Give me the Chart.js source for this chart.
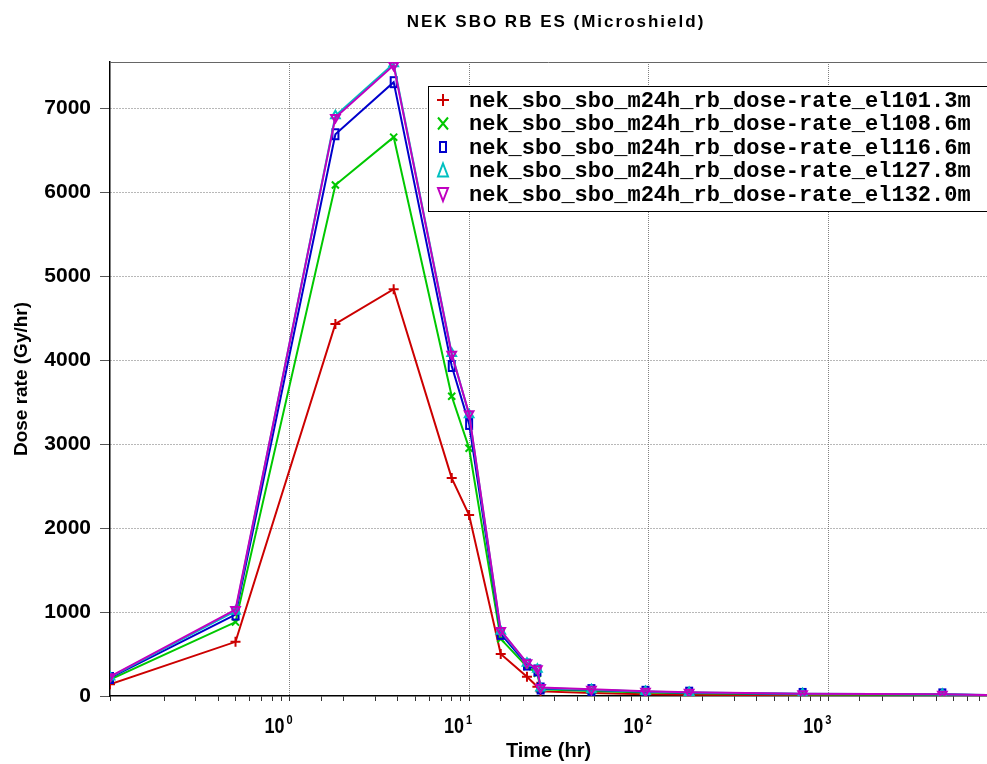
<!DOCTYPE html>
<html>
<head>
<meta charset="utf-8">
<script src="https://cdn.jsdelivr.net/npm/chart.js@4.4.1/dist/chart.umd.min.js"></script>
<style>
  html, body { margin: 0; padding: 0; background: #fff; overflow: hidden; }
  #wrap { width: 987px; height: 764px; position: relative; }
</style>
</head>
<body>
<div id="wrap"><canvas id="doseChart"></canvas></div>
<script>
// sample times (hr)
const times = [0.1, 0.5, 1.8, 3.8, 8, 10, 15, 21, 24, 25, 48, 96, 168, 720, 4320, 8760];

// dose rate (Gy/hr) per elevation
const el101 = [140, 645, 4430, 4845, 2595, 2155, 500, 230, 110, 55, 35, 22, 15, 8, 5, 3];
const el108 = [195, 880, 6085, 6655, 3570, 2950, 680, 350, 270, 80, 60, 42, 32, 18, 13, 5];
const el116 = [215, 970, 6690, 7310, 3930, 3240, 740, 375, 305, 90, 70, 50, 40, 25, 20, 8];
const el127 = [225, 1010, 6910, 7530, 4080, 3350, 770, 390, 320, 95, 75, 55, 42, 27, 22, 8];
const el132 = [230, 1030, 6890, 7510, 4070, 3360, 780, 395, 325, 100, 80, 58, 45, 28, 22, 8];

const seriesNames = [
  'nek_sbo_sbo_m24h_rb_dose-rate_el101.3m',
  'nek_sbo_sbo_m24h_rb_dose-rate_el108.6m',
  'nek_sbo_sbo_m24h_rb_dose-rate_el116.6m',
  'nek_sbo_sbo_m24h_rb_dose-rate_el127.8m',
  'nek_sbo_sbo_m24h_rb_dose-rate_el132.0m'
];
const seriesValues = [el101, el108, el116, el127, el132];
const colors = ['#cc0000', '#00c800', '#0000cc', '#00c0c0', '#c000c0'];

const chartTitle = 'NEK SBO RB ES (Microshield)';
const xDecadeExps = [0, 1, 2, 3];
const yTickValues = [0, 1000, 2000, 3000, 4000, 5000, 6000, 7000];

const SANS = "'Liberation Sans', Arial, sans-serif";
const MONO = "'Liberation Mono', 'Courier New', monospace";

// tall hollow box marker for the 116.6m series
function tallBox(color) {
  const c = document.createElement('canvas');
  c.width = 10; c.height = 14;
  const g = c.getContext('2d');
  g.strokeStyle = color;
  g.lineWidth = 2;
  g.strokeRect(2, 2, 6, 10);
  return c;
}

const markers = [
  { style: 'cross', rot: 0 },
  { style: 'crossRot', rot: 0 },
  { style: tallBox(colors[2]), rot: 0 },
  { style: 'triangle', rot: 0 },
  { style: 'triangle', rot: 180 }
];

function isDecade(v) {
  const l = Math.log10(v);
  return Math.abs(l - Math.round(l)) < 1e-6;
}

// legend marker, drawn by hand
function legendMarker(ctx, i, x, y) {
  const m = markers[i];
  ctx.strokeStyle = colors[i];
  ctx.lineWidth = 2;
  ctx.beginPath();
  if (i === 0) {
    ctx.moveTo(x - 6, y); ctx.lineTo(x + 6, y);
    ctx.moveTo(x, y - 6); ctx.lineTo(x, y + 6);
    ctx.stroke();
  } else if (i === 1) {
    ctx.moveTo(x - 5, y - 6); ctx.lineTo(x + 5, y + 6);
    ctx.moveTo(x + 5, y - 6); ctx.lineTo(x - 5, y + 6);
    ctx.stroke();
  } else if (i === 2) {
    ctx.drawImage(m.style, x - 5, y - 7);
  } else if (i === 3) {
    ctx.moveTo(x, y - 7); ctx.lineTo(x + 5, y + 6); ctx.lineTo(x - 5, y + 6); ctx.closePath();
    ctx.stroke();
  } else {
    ctx.moveTo(x, y + 7); ctx.lineTo(x + 5, y - 6); ctx.lineTo(x - 5, y - 6); ctx.closePath();
    ctx.stroke();
  }
}

const decorPlugin = {
  id: 'decor',
  beforeDatasetsDraw(chart) {
    const { ctx, chartArea: a } = chart;
    ctx.save();
    ctx.strokeStyle = '#666';
    ctx.lineWidth = 1;
    ctx.beginPath();
    ctx.moveTo(a.left, a.top + 0.5);
    ctx.lineTo(a.right, a.top + 0.5);
    ctx.stroke();
    ctx.restore();
  },
  afterDraw(chart) {
    const ctx = chart.ctx;

    // title
    ctx.save();
    ctx.font = 'bold 17px ' + SANS;
    ctx.letterSpacing = '2px';
    ctx.fillStyle = '#000';
    ctx.textAlign = 'center';
    ctx.textBaseline = 'middle';
    ctx.fillText(chartTitle, 556, 22);
    ctx.restore();

    // decade tick labels 10^n (slightly condensed like the original)
    const xs = chart.scales.x;
    ctx.save();
    ctx.fillStyle = '#000';
    ctx.textBaseline = 'alphabetic';
    xDecadeExps.forEach(e => {
      const px = xs.getPixelForValue(Math.pow(10, e));
      ctx.save();
      ctx.translate(px - 5, 733);
      ctx.scale(0.82, 1);
      ctx.font = 'bold 22px ' + SANS;
      ctx.textAlign = 'right';
      ctx.fillText('10', 0, 0);
      ctx.restore();
      ctx.save();
      ctx.translate(px - 3, 724);
      ctx.scale(0.85, 1);
      ctx.font = 'bold 13px ' + SANS;
      ctx.textAlign = 'left';
      ctx.fillText(String(e), 0, 0);
      ctx.restore();
    });
    ctx.restore();

    // legend box
    ctx.save();
    ctx.fillStyle = '#fff';
    ctx.fillRect(428.5, 86.5, 600, 125);
    ctx.strokeStyle = '#000';
    ctx.lineWidth = 1;
    ctx.strokeRect(428.5, 86.5, 600, 125);
    ctx.font = 'bold 22px ' + MONO;
    ctx.fillStyle = '#000';
    ctx.textAlign = 'left';
    ctx.textBaseline = 'middle';
    seriesNames.forEach((name, i) => {
      const y = 100 + i * 23.5;
      legendMarker(ctx, i, 443, y);
      ctx.fillText(name, 469, y + 1);
    });
    ctx.restore();
  }
};

const datasets = seriesNames.map((name, i) => ({
  label: name,
  data: times.map((t, k) => ({ x: t, y: seriesValues[i][k] })),
  borderColor: colors[i],
  backgroundColor: colors[i],
  borderWidth: 2,
  pointStyle: markers[i].style,
  rotation: markers[i].rot,
  pointRadius: 5,
  pointBorderWidth: 2,
  pointBorderColor: colors[i],
  pointBackgroundColor: 'rgba(0,0,0,0)',
  tension: 0,
  order: seriesNames.length - 1 - i
}));

new Chart(document.getElementById('doseChart').getContext('2d'), {
  type: 'line',
  data: { datasets },
  options: {
    responsive: true,
    maintainAspectRatio: false,
    animation: false,
    layout: { autoPadding: false, padding: { top: 62, left: 0, right: 0, bottom: 0 } },
    plugins: {
      legend: { display: false },
      title: { display: false },
      tooltip: { enabled: false }
    },
    scales: {
      x: {
        type: 'logarithmic',
        min: 0.1,
        max: 7660,
        ticks: { display: false, autoSkip: false },
        grid: {
          color: c => (c.tick && c.tick.value >= 1 && isDecade(c.tick.value)) ? '#808080' : 'rgba(0,0,0,0)',
          tickColor: '#333',
          tickLength: 5,
          lineWidth: 1
        },
        border: { display: true, color: '#000', width: 1.5, dash: [1, 1] },
        title: {
          display: true,
          text: 'Time (hr)',
          color: '#000',
          font: { family: SANS, size: 20, weight: 'bold' },
          padding: { top: 0, bottom: 1 }
        },
        afterFit: s => { s.height = 68; }
      },
      y: {
        type: 'linear',
        min: 0,
        max: 7550,
        ticks: {
          padding: 9,
          autoSkip: false,
          color: '#000',
          font: { family: SANS, size: 21, weight: 'bold' },
          callback: v => String(v)
        },
        afterBuildTicks: s => { s.ticks = yTickValues.map(v => ({ value: v })); },
        grid: {
          color: c => (c.tick && c.tick.value > 0) ? '#707070' : 'rgba(0,0,0,0)',
          tickColor: '#555',
          tickLength: 10
        },
        border: { display: true, color: '#000', width: 1.5, dash: [1, 2] },
        title: {
          display: true,
          text: 'Dose rate (Gy/hr)',
          color: '#000',
          font: { family: SANS, size: 19, weight: 'bold' },
          padding: { top: 10, bottom: 0 }
        },
        afterFit: s => { s.width = 110; }
      }
    }
  },
  plugins: [decorPlugin]
});
</script>
</body>
</html>
